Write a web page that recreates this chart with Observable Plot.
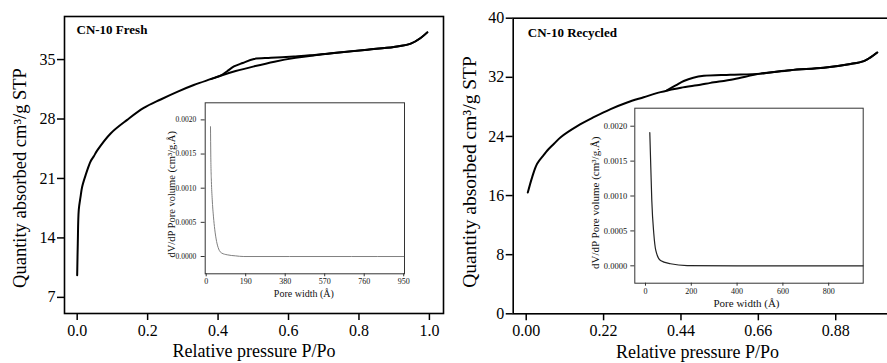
<!DOCTYPE html>
<html><head><meta charset="utf-8">
<script src="https://cdn.jsdelivr.net/npm/d3@7"></script>
<script src="https://cdn.jsdelivr.net/npm/@observablehq/plot@0.6"></script>
<style>
html,body{margin:0;padding:0;background:#fff;overflow:hidden;width:887px;height:363px;}
#root{position:relative;width:887px;height:363px;overflow:hidden;background:#fff;}
#root svg{position:absolute;max-width:none;background:transparent;font-family:"Liberation Serif","Times New Roman",serif;}
</style></head><body><div id="root"></div>
<script>
// ---- Data ----
const freshAdsP = [0.000,0.0017,0.0045,0.0094,0.014,0.024,0.038,0.047,0.057,0.095,0.142,0.189,0.237,0.284,0.331,0.379,0.407,0.45,0.502,0.56,0.62,0.68,0.729,0.824,0.899,0.947,0.975,0.994];
const freshAdsV = [9.6,13.3,17.3,18.8,20.0,21.4,23.0,23.6,24.3,26.3,27.9,29.3,30.3,31.2,32.0,32.7,33.1,33.65,34.2,34.75,35.2,35.55,35.77,36.16,36.48,36.87,37.54,38.2];
const freshDesP = [0.994,0.975,0.947,0.899,0.824,0.729,0.66,0.615,0.55,0.502,0.47,0.445,0.425,0.407,0.379];
const freshDesV = [38.2,37.54,36.87,36.48,36.16,35.77,35.5,35.37,35.2,35.06,34.6,34.19,33.6,33.1,32.7];

const recAdsP = [0.0045,0.017,0.031,0.05,0.06,0.079,0.098,0.145,0.192,0.24,0.287,0.334,0.382,0.41,0.44,0.495,0.524,0.59,0.666,0.751,0.846,0.922,0.96,0.979,0.998];
const recAdsV = [16.4,18.5,20.3,21.5,22.1,23.0,23.9,25.4,26.6,27.7,28.6,29.3,30.0,30.3,30.6,31.0,31.25,31.75,32.5,32.97,33.3,33.8,34.2,34.7,35.35];
const recDesP = [0.998,0.979,0.96,0.922,0.846,0.751,0.666,0.58,0.505,0.475,0.448,0.425,0.40];
const recDesV = [35.35,34.7,34.2,33.8,33.3,32.97,32.5,32.35,32.2,31.95,31.5,30.9,30.25];

const freshPoreW = [20.7,22,25,28.9,35,41,50,60,75,101,140,181,400,700,950];
const freshPoreVol = [0.0019,0.0015,0.0011,0.00084,0.00058,0.0004,0.00022,0.00011,0.00005,0.000025,0.00001,0,0,0,0];
const recPoreW = [18.8,23.2,27.5,36.3,45,65.5,109,182,400,700,950];
const recPoreVol = [0.00191,0.00141,0.00094,0.00046,0.00022,0.000076,0.00003,0.000004,0,0,0];

const freshXTicks = [0,0.2,0.4,0.6,0.8,1.0];
const freshYTicks = [7,14,21,28,35];
const recXTicks = [0,0.22,0.44,0.66,0.88];
const recYTicks = [0,8,16,24,32,40];
const freshPoreTicks = [0,190,380,570,760,950];
const recPoreTicks = [0,200,400,600,800];
const poreVolTicks = [0,0.0005,0.0010,0.0015,0.0020];

const titles = ["CN-10 Fresh","CN-10 Recycled"];
const xLabel = "Relative pressure P/Po";
const yLabel = "Quantity absorbed cm³/g STP";
const insetXLabel = "Pore width (Å)";
const insetYLabel = "dV/dP Pore volume (cm³/g.Å)";

const rows = (xs, ys) => xs.map((x,i)=>({x, y: ys[i]}));
const FONT = '"Liberation Serif","Times New Roman",serif';
const root = document.getElementById("root");

function place(svg, left, top){ svg.style.left = left+"px"; svg.style.top = top+"px"; root.appendChild(svg); }

function mainPlot(o){
  return Plot.plot({
    width:o.width, height:363, marginLeft:o.ml, marginRight:o.mr, marginTop:o.mt, marginBottom:o.mb,
    style:{background:"transparent", fontFamily:FONT, maxWidth:"none"},
    x:{domain:o.xd}, y:{domain:o.yd},
    marks:[
      Plot.axisX({ticks:o.xt, tickFormat:d3.format(o.xf), tickSize:7, tickPadding:4, fontSize:16, strokeWidth:1.5, label:null, fill:"#000"}),
      Plot.axisY({ticks:o.yt, tickFormat:d3.format("d"), tickSize:7, tickPadding:2, fontSize:16, strokeWidth:1.5, label:null, fill:"#000"}),
      Plot.frame({stroke:"#000", strokeWidth:1.6}),
      Plot.line(rows(o.aP,o.aV), {x:"x", y:"y", stroke:"#000", strokeWidth:2, curve:"catmull-rom"}),
      Plot.line(rows(o.dP,o.dV), {x:"x", y:"y", stroke:"#000", strokeWidth:2, curve:"catmull-rom"}),
      Plot.text([o.title], {frameAnchor:"top-left", textAnchor:"start", lineAnchor:"middle", dx:o.tdx, dy:o.tdy, fontWeight:"bold", fontSize:13, fill:"#000"}),
      Plot.text([xLabel], {frameAnchor:"bottom", textAnchor:"middle", lineAnchor:"middle", dx:o.xldx, dy:38, fontSize:18, fill:"#000"}),
      Plot.text([yLabel], {frameAnchor:"left", textAnchor:"middle", lineAnchor:"middle", rotate:-90, dx:o.yldx, dy:o.yldy, fontSize:o.ylfs, fill:"#000"})
    ]
  });
}

function insetPlot(o){
  return Plot.plot({
    width:o.width, height:o.height, marginLeft:o.ml, marginRight:o.mr, marginTop:o.mt, marginBottom:o.mb,
    style:{background:"transparent", fontFamily:FONT, maxWidth:"none"},
    x:{domain:o.xd}, y:{domain:o.yd},
    marks:[
      Plot.axisX({ticks:o.xt, tickFormat:d3.format("d"), tickSize:3, tickPadding:2, fontSize:8, label:null, fill:"#111", stroke:"#333"}),
      Plot.axisY({ticks:poreVolTicks, tickFormat:d3.format(".4f"), tickSize:4, tickPadding:o.ytp, fontSize:o.ytfs, label:null, fill:"#111", stroke:"#333"}),
      Plot.frame({stroke:"#333", strokeWidth:1}),
      Plot.line(rows(o.w,o.v), {x:"x", y:"y", stroke:o.lc, strokeWidth:o.lw, curve:"monotone-x"}),
      Plot.text([insetXLabel], {frameAnchor:"bottom", textAnchor:"middle", lineAnchor:"middle", dx:o.xldx, dy:o.xldy, fontSize:o.xlfs, fill:"#111"}),
      Plot.text([insetYLabel], {frameAnchor:"left", textAnchor:"middle", lineAnchor:"middle", rotate:-90, dx:o.yldx, dy:o.yldy, fontSize:o.ylfs, fill:"#111"})
    ]
  });
}

place(mainPlot({width:450, ml:64, mr:7, mt:16, mb:50, xd:[-0.036,1.04], yd:[5.1,40.07],
  xt:freshXTicks, xf:".1f", yt:freshYTicks, aP:freshAdsP, aV:freshAdsV, dP:freshDesP, dV:freshDesV,
  title:titles[0], tdx:12, tdy:13.3, xldx:0, yldx:-44, yldy:13, ylfs:18.5}), 0, 0);

place(mainPlot({width:450, ml:62.7, mr:8.5, mt:17.7, mb:49.7, xd:[-0.037,1.04], yd:[0,40],
  xt:recXTicks, xf:".2f", yt:recYTicks, aP:recAdsP, aV:recAdsV, dP:recDesP, dV:recDesV,
  title:titles[1], tdx:14.6, tdy:14.6, xldx:-5, yldx:-43.4, yldy:6, ylfs:19.5}), 450, 0);

place(insetPlot({width:262, height:215, ml:54.7, mr:8, mt:7.3, mb:36.7, xd:[-4.8,953.8], yd:[-0.000253,0.00225],
  xt:freshPoreTicks, w:freshPoreW, v:freshPoreVol, lc:"#808080", lw:1, ytp:5, ytfs:7.5,
  xldx:-1, xldy:20, xlfs:10, yldx:-34, yldy:6, ylfs:10.5}), 150, 95);

place(insetPlot({width:285, height:215, ml:49.3, mr:7.3, mt:7.7, mb:32.3, xd:[-46.7,950.7], yd:[-0.000249,0.002258],
  xt:recPoreTicks, w:recPoreW, v:recPoreVol, lc:"#222", lw:1.2, ytp:3.6, ytfs:8.5,
  xldx:-2.5, xldy:20.6, xlfs:11, yldx:-39.3, yldy:7, ylfs:11}), 585, 100);
</script></body></html>
